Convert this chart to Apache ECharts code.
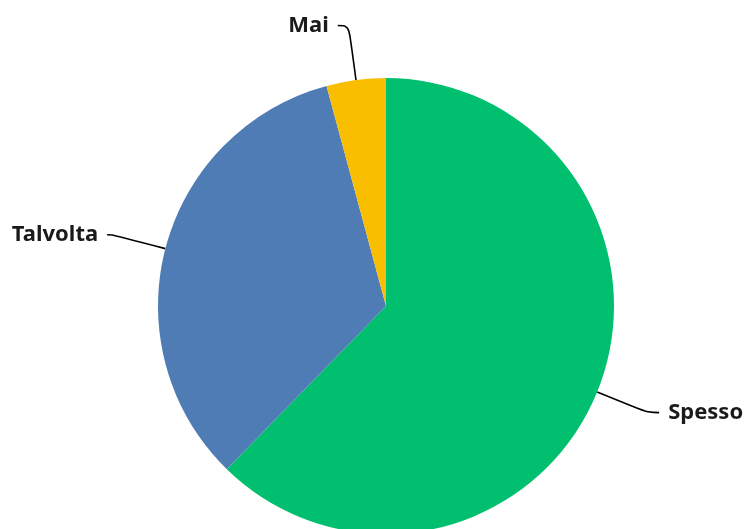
<!DOCTYPE html>
<html>
<head>
<meta charset="utf-8">
<script src="https://cdn.jsdelivr.net/npm/echarts@6/dist/echarts.min.js"></script>
<style>
  html, body { margin: 0; padding: 0; background: #fff; }
  #chart { width: 744px; height: 529px; }
</style>
</head>
<body>
<div id="chart"></div>
<script>
// answer categories and their shares (percent)
const categories = ['Spesso', 'Talvolta', 'Mai'];
const values = [62.3, 33.5, 4.2];
const colors = ['#00bf6f', '#507cb6', '#f9be00'];
const tailLengths = [11, 5, 11]; // horizontal part of each label line

const chart = echarts.init(document.getElementById('chart'));

const option = {
  animation: false,
  series: [
    {
      type: 'pie',
      center: [386, 306],
      radius: 228,
      startAngle: 90,
      clockwise: true,
      avoidLabelOverlap: false,
      data: categories.map((name, i) => ({
        name: name,
        value: values[i],
        itemStyle: { color: colors[i] },
        labelLine: { length2: tailLengths[i] },
      })),
      label: {
        show: true,
        formatter: '{b}',
        color: '#1a1a1a',
        fontFamily: 'Noto Sans',
        fontWeight: 'bold',
        fontSize: 22,
        distanceToLabelLine: 9,
      },
      labelLine: {
        show: true,
        smooth: 0.4,
        length: 55,
        length2: 8,
        lineStyle: { color: '#000', width: 1.6 },
      },
      itemStyle: { borderWidth: 0 },
      emphasis: { disabled: true },
    },
  ],
};

try {
  chart.setOption(option, true);
} catch (error) {
  console.error('setOption failed', error);
}
</script>
</body>
</html>
